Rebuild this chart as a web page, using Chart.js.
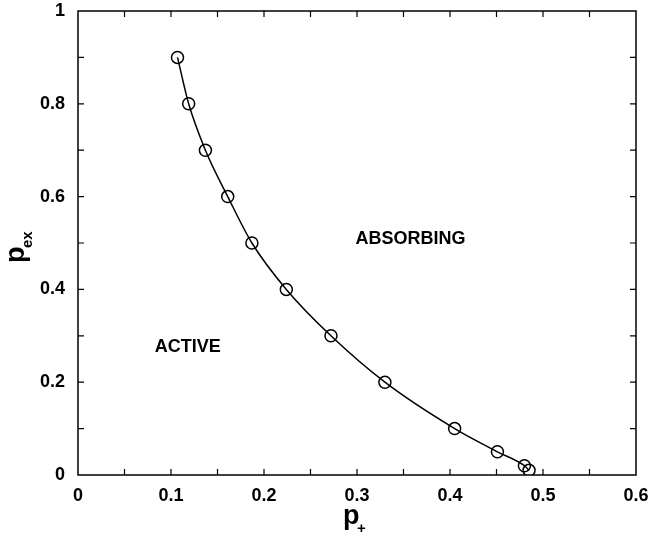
<!DOCTYPE html>
<html>
<head>
<meta charset="utf-8">
<script src="https://cdn.jsdelivr.net/npm/chart.js@4"></script>
<style>
  html, body { margin: 0; padding: 0; background: #fff; }
  #wrap { width: 650px; height: 537px; }
</style>
</head>
<body>
<div id="wrap"><canvas id="phaseChart"></canvas></div>
<script>
// phase boundary
const pPlus = [0.107, 0.119, 0.137, 0.161, 0.187, 0.224, 0.272, 0.330, 0.405, 0.451, 0.480, 0.485];
const pEx   = [0.90, 0.80, 0.70, 0.60, 0.50, 0.40, 0.30, 0.20, 0.10, 0.05, 0.02, 0.01];

const xMinorTicks = [0.05, 0.1, 0.15, 0.2, 0.25, 0.3, 0.35, 0.4, 0.45, 0.5, 0.55];
const yMinorTicks = [0.1, 0.2, 0.3, 0.4, 0.5, 0.6, 0.7, 0.8, 0.9];

const regionNames = ['ABSORBING', 'ACTIVE'];
const regionX = [0.3575, 0.118];
const regionY = [0.509, 0.275];

const points = pPlus.map((x, i) => ({ x: x, y: pEx[i] }));

const frameAndLabels = {
    id: 'frameAndLabels',
    afterDatasetsDraw(chart) {
        const ctx = chart.ctx;
        const area = chart.chartArea;
        const xs = chart.scales.x;
        const ys = chart.scales.y;
        const tick = 6;

        ctx.save();
        ctx.strokeStyle = '#000';
        ctx.lineWidth = 1.5;
        ctx.strokeRect(area.left, area.top, area.right - area.left, area.bottom - area.top);

        ctx.lineWidth = 1.2;
        ctx.beginPath();
        xMinorTicks.forEach(v => {
            const px = xs.getPixelForValue(v);
            ctx.moveTo(px, area.bottom); ctx.lineTo(px, area.bottom - tick);
            ctx.moveTo(px, area.top); ctx.lineTo(px, area.top + tick);
        });
        yMinorTicks.forEach(v => {
            const py = ys.getPixelForValue(v);
            ctx.moveTo(area.left, py); ctx.lineTo(area.left + tick, py);
            ctx.moveTo(area.right, py); ctx.lineTo(area.right - tick, py);
        });
        ctx.stroke();

        // region names
        ctx.fillStyle = '#000';
        ctx.font = 'bold 18px "Liberation Sans", Arial, sans-serif';
        ctx.textAlign = 'center';
        ctx.textBaseline = 'middle';
        regionNames.forEach((name, i) => {
            ctx.fillText(name, xs.getPixelForValue(regionX[i]), ys.getPixelForValue(regionY[i]));
        });

        // x axis title: p with subscript +
        const cx = (area.left + area.right) / 2;
        ctx.textAlign = 'left';
        ctx.textBaseline = 'alphabetic';
        ctx.font = 'bold 27px "Liberation Sans", Arial, sans-serif';
        ctx.fillText('p', cx - 14, 524);
        ctx.font = 'bold 15px "Liberation Sans", Arial, sans-serif';
        ctx.fillText('+', cx, 533);

        // y axis title: p with subscript ex, rotated
        const cy = (area.top + area.bottom) / 2;
        ctx.translate(24, cy);
        ctx.rotate(-Math.PI / 2);
        ctx.font = 'bold 27px "Liberation Sans", Arial, sans-serif';
        ctx.fillText('p', -20, 0);
        ctx.font = 'bold 15px "Liberation Sans", Arial, sans-serif';
        ctx.fillText('ex', -5, 8);
        ctx.restore();
    }
};

new Chart(document.getElementById('phaseChart'), {
    type: 'scatter',
    data: {
        datasets: [{
            data: points,
            showLine: true,
            cubicInterpolationMode: 'monotone',
            borderColor: '#000',
            borderWidth: 1.5,
            pointStyle: 'circle',
            pointRadius: 6,
            pointBorderWidth: 1.5,
            pointBorderColor: '#000',
            pointBackgroundColor: 'rgba(0,0,0,0)'
        }]
    },
    options: {
        responsive: true,
        maintainAspectRatio: false,
        animation: false,
        layout: { padding: { top: 11, right: 14, left: 0, bottom: 0 } },
        plugins: { legend: { display: false }, tooltip: { enabled: false } },
        scales: {
            x: {
                type: 'linear',
                min: 0,
                max: 0.6,
                grid: { display: false, drawTicks: false },
                border: { display: false },
                ticks: {
                    stepSize: 0.1,
                    padding: 10,
                    color: '#000',
                    font: { family: '"Liberation Sans", Arial, sans-serif', size: 18, weight: 'bold' },
                    callback: v => Math.round(v * 10) / 10
                },
                afterFit: scale => {
                    scale.height = 62;
                    scale.paddingLeft = 0;
                    scale.paddingRight = 0;
                }
            },
            y: {
                type: 'linear',
                min: 0,
                max: 1,
                grid: { display: false, drawTicks: false },
                border: { display: false },
                ticks: {
                    stepSize: 0.2,
                    padding: 13,
                    color: '#000',
                    font: { family: '"Liberation Sans", Arial, sans-serif', size: 18, weight: 'bold' },
                    callback: v => Math.round(v * 10) / 10
                },
                afterFit: scale => {
                    scale.width = 78;
                    scale.paddingTop = 0;
                    scale.paddingBottom = 0;
                }
            }
        }
    },
    plugins: [frameAndLabels]
});
</script>
</body>
</html>
